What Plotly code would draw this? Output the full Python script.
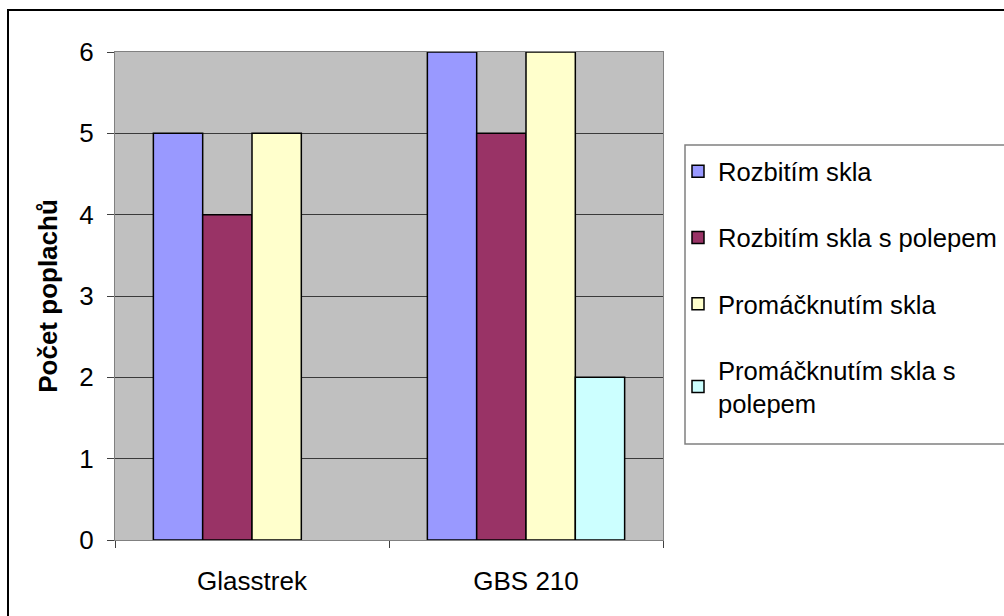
import plotly.graph_objects as go

categories = ["Glasstrek", "GBS 210"]
series_names = ["Rozbitím skla", "Rozbitím skla s polepem", "Promáčknutím skla", "Promáčknutím skla s<br>polepem"]
rozbitim = [5, 6]
rozbitim_polep = [4, 5]
promacknutim = [5, 6]
promacknutim_polep = [None, 2]
colors = ["#9999FF", "#993366", "#FFFFCC", "#CCFFFF"]
y_ticks = [0, 1, 2, 3, 4, 5, 6]

W, H = 1004, 616
L, R, T, B = 115, 663, 52, 540
pw, ph = R - L, B - T

def px_x(x):
    return (x - L) / pw

def px_y(y):
    return (B - y) / ph

FONT = "Liberation Sans, Arial, sans-serif"
FS = 26
fig = go.Figure()
for i, (name, vals) in enumerate(zip(series_names, [rozbitim, rozbitim_polep, promacknutim, promacknutim_polep])):
    fig.add_trace(go.Bar(
        x=categories, y=vals, name=name,
        marker=dict(color=colors[i], line=dict(color="#000000", width=1.5)),
        legendgroup=f"g{i}",
    ))

fig.update_layout(
    width=W, height=H,
    margin=dict(l=L, r=W - R, t=T, b=H - B, autoexpand=False),
    paper_bgcolor="white",
    plot_bgcolor="#C0C0C0",
    barmode="group",
    bargap=0.28,
    bargroupgap=0,
    font=dict(family=FONT, size=FS, color="black"),
    showlegend=True,
    legend=dict(
        x=px_x(678), y=px_y(148), xanchor="left", yanchor="top",
        bgcolor="rgba(0,0,0,0)", borderwidth=0,
        font=dict(family=FONT, size=25.6, color="black"),
        traceorder="grouped", tracegroupgap=30,
        itemclick=False,
    ),
    xaxis=dict(
        showgrid=False, showline=True, linecolor="#808080", linewidth=1, mirror=True,
        ticks="outside", ticklen=7, tickcolor="#404040", tickson="boundaries",
        ticklabelstandoff=18,
        tickfont=dict(family=FONT, size=FS, color="black"),
        fixedrange=True,
    ),
    yaxis=dict(
        range=[0, 6], tickvals=y_ticks, showgrid=True, gridcolor="#3a3a3a", gridwidth=1,
        showline=True, linecolor="#808080", linewidth=1, mirror=True,
        ticks="outside", ticklen=7, tickcolor="#404040",
        ticklabelstandoff=8, zeroline=False,
        tickfont=dict(family=FONT, size=FS, color="black"),
        title=dict(text="<b>Počet poplachů</b>", standoff=14,
                   font=dict(family=FONT, size=FS, color="black")),
        fixedrange=True,
    ),
    shapes=[
        dict(type="rect", xref="paper", yref="paper",
             x0=px_x(8), x1=px_x(1012), y0=px_y(10), y1=px_y(625),
             line=dict(color="black", width=2), fillcolor="rgba(0,0,0,0)", layer="below"),
        dict(type="rect", xref="paper", yref="paper",
             x0=px_x(685), x1=px_x(1012), y0=px_y(145), y1=px_y(444),
             line=dict(color="#808080", width=1.5), fillcolor="white", layer="below"),
    ],
)

fig.write_html("out.html", config={"displayModeBar": False},
               post_script="document.body.style.margin='0';document.body.style.overflow='hidden';")
